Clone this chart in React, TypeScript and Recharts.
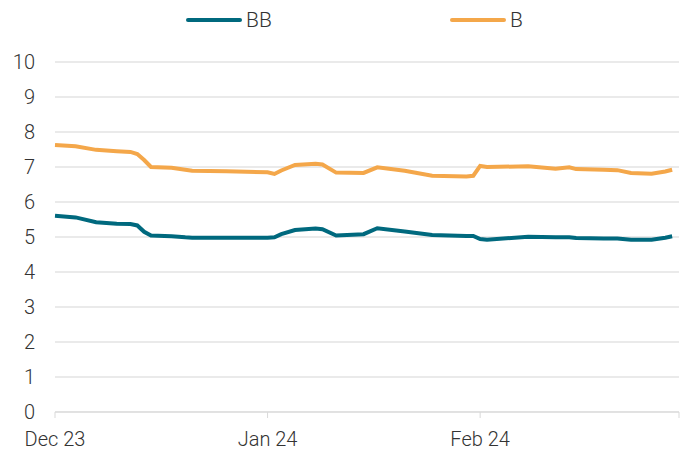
import { CartesianGrid, Line, LineChart, XAxis, YAxis } from "recharts";

// day offsets from 1 Dec 2023
const days = [
  0, 3, 6, 9, 11, 12, 13, 14, 17, 19, 20, 25, 31, 32, 33, 35, 38, 39, 41, 45,
  47, 51, 55, 60, 61, 62, 63, 69, 73, 75, 76, 80, 82, 84, 87, 89, 90,
];

const bbValues = [
  5.61, 5.56, 5.42, 5.38, 5.37, 5.33, 5.15, 5.04, 5.02, 4.99, 4.98, 4.98, 4.98,
  4.99, 5.08, 5.2, 5.24, 5.22, 5.04, 5.08, 5.25, 5.16, 5.06, 5.03, 5.03, 4.94,
  4.92, 5.01, 4.99, 4.99, 4.97, 4.96, 4.96, 4.92, 4.92, 4.98, 5.02,
];

const bValues = [
  7.63, 7.59, 7.49, 7.45, 7.43, 7.37, 7.2, 7.0, 6.98, 6.92, 6.89, 6.88, 6.85,
  6.8, 6.9, 7.06, 7.09, 7.07, 6.84, 6.83, 6.99, 6.89, 6.75, 6.73, 6.75, 7.03,
  7.0, 7.02, 6.95, 6.99, 6.94, 6.92, 6.91, 6.83, 6.81, 6.87, 6.92,
];

const monthTicks = [0, 31, 62, 91];
const monthLabels = ["Dec 23", "Jan 24", "Feb 24", ""];
const yTicks = [0, 1, 2, 3, 4, 5, 6, 7, 8, 9, 10];

const TEAL = "#00697e";
const ORANGE = "#f4a74a";
const FONT = "Roboto, 'Liberation Sans', sans-serif";

const data = days.map((day, i) => ({ day, BB: bbValues[i], B: bValues[i] }));

function LegendItem({ color, label, left }: { color: string; label: string; left: number }) {
  return (
    <div style={{ position: "absolute", left, top: 8, display: "flex", alignItems: "center" }}>
      <span
        style={{ display: "inline-block", width: 56, height: 4, borderRadius: 2, background: color }}
      />
      <span style={{ marginLeft: 4, fontSize: 21, fontWeight: 300, color: "#333" }}>{label}</span>
    </div>
  );
}

export default function App() {
  return (
    <div
      style={{
        position: "absolute",
        left: 0,
        top: 0,
        width: 689,
        height: 452,
        background: "#fff",
        fontFamily: FONT,
      }}
    >
      <LegendItem color={TEAL} label="BB" left={186} />
      <LegendItem color={ORANGE} label="B" left={450} />
      <LineChart
        width={689}
        height={452}
        data={data}
        margin={{ top: 62, right: 10, left: 0, bottom: 10 }}
      >
        <CartesianGrid vertical={false} stroke="#e3e3e3" strokeWidth={1.5} />
        <XAxis
          dataKey="day"
          type="number"
          domain={[0, 91]}
          ticks={monthTicks}
          tickFormatter={(v: number) => monthLabels[monthTicks.indexOf(v)] ?? ""}
          height={30}
          axisLine={{ stroke: "#d9d9d9" }}
          tickLine={{ stroke: "#d9d9d9" }}
          tickSize={6}
          tickMargin={14}
          tick={{ fontSize: 20, fill: "#333", fontWeight: 300, fontFamily: FONT }}
        />
        <YAxis
          domain={[0, 10]}
          ticks={yTicks}
          width={55}
          axisLine={false}
          tickLine={false}
          tickSize={0}
          tickMargin={20}
          tick={{ fontSize: 20, fill: "#333", fontWeight: 300, fontFamily: FONT }}
        />
        <Line
          dataKey="BB"
          stroke={TEAL}
          strokeWidth={4}
          dot={false}
          type="linear"
          isAnimationActive={false}
        />
        <Line
          dataKey="B"
          stroke={ORANGE}
          strokeWidth={4}
          dot={false}
          type="linear"
          isAnimationActive={false}
        />
      </LineChart>
    </div>
  );
}
